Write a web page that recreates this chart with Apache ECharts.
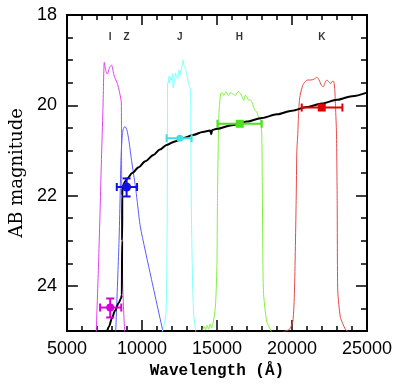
<!DOCTYPE html>
<html>
<head>
<meta charset="utf-8">
<script src="https://cdn.jsdelivr.net/npm/echarts@6/dist/echarts.min.js"></script>
<style>html,body{margin:0;padding:0;background:#fff}#c{width:397px;height:384px}</style>
</head>
<body>
<div id="c"></div>
<script>
// ---- data ----
const xTicks = [5000, 10000, 15000, 20000, 25000];
const yTicks = [18, 20, 22, 24];

const filterI = [[6950,25.05],[7100,23.6],[7230,22.1],[7300,21.2],[7400,20.1],[7490,19.05],[7600,19.25],[7700,19.31],[7850,19.15],[7970,19.11],[8150,19.35],[8364,19.52],[8500,19.7],[8587,19.85],[8626,19.93],[8640,21.0],[8660,22.5],[8720,24.0],[8800,24.7],[8860,25.05]];
const filterZ = [[8250,25.05],[8300,24.6],[8400,23.7],[8475,23.0],[8541,22.1],[8587,21.37],[8626,21.0],[8700,20.63],[8760,20.52],[8869,20.47],[9000,20.55],[9131,20.78],[9308,21.22],[9570,21.81],[9675,22.1],[9898,22.7],[10600,23.8],[11426,25.05]];
const filterJ = [[11295,25.05],[11426,24.95],[11603,24.6],[11660,23.5],[11689,22.0],[11700,20.5],[11708,19.5],[11754,19.52],[11800,19.35],[11850,19.5],[11910,19.38],[11970,19.44],[12030,19.3],[12082,19.62],[12180,19.45],[12240,19.28],[12298,19.37],[12400,19.42],[12460,19.22],[12521,19.33],[12626,19.18],[12690,19.1],[12738,19.0],[12800,19.12],[12849,19.15],[12954,19.26],[13066,19.44],[13177,19.59],[13243,19.67],[13260,20.5],[13282,22.0],[13350,23.5],[13439,24.6],[13610,25.05]];
const filterH = [[14049,24.98],[14150,24.9],[14250,24.97],[14350,24.88],[14450,24.96],[14550,24.85],[14650,24.94],[14750,24.8],[14850,24.6],[14921,24.33],[15000,23.5],[15033,22.11],[15098,20.62],[15144,20.11],[15249,19.74],[15350,19.72],[15450,19.78],[15623,19.70],[15700,19.76],[15800,19.78],[15900,19.72],[16016,19.74],[16120,19.76],[16230,19.78],[16350,19.72],[16456,19.70],[16560,19.74],[16672,19.81],[16784,19.89],[16889,19.78],[17000,19.81],[17111,19.89],[17220,19.88],[17328,19.93],[17439,20.04],[17544,20.11],[17656,20.15],[17767,20.26],[17872,20.3],[17984,20.62],[18030,22.11],[18095,24.11],[18311,24.78],[18639,25.02]];
const filterK = [[19407,25.02],[19839,24.96],[20062,24.78],[20167,24.11],[20279,22.11],[20325,21.0],[20390,20.62],[20430,20.26],[20495,19.89],[20561,19.75],[20718,19.56],[20869,19.48],[21046,19.44],[21262,19.44],[21479,19.42],[21656,19.38],[21807,19.44],[21964,19.56],[22095,19.59],[22180,19.52],[22311,19.44],[22462,19.48],[22574,19.52],[22685,19.47],[22790,19.48],[22856,19.67],[22902,20.04],[22967,20.62],[23013,22.11],[23052,24.11],[23230,24.7],[23557,24.96],[23774,25.02]];

const sed = [[7640,25.05],[7800,24.9],[8000,24.72],[8200,24.55],[8450,24.38],[8600,24.28],[8660,24.2],[8680,23.0],[8690,22.0],[8700,21.85],[8760,21.76],[8880,21.69],[9023,21.62],[9351,21.5],[9787,21.37],[10226,21.24],[10770,21.1],[11200,20.98],[11643,20.88],[12200,20.8],[12738,20.73],[13400,20.66],[14049,20.59],[14550,20.56],[14620,20.64],[14680,20.55],[15000,20.52],[16000,20.44],[17000,20.36],[18000,20.28],[19000,20.20],[20000,20.12],[21000,20.04],[22000,19.96],[23000,19.88],[24000,19.80],[25000,19.72]];

// photometry: [wavelength, mag, xLow, xHigh, magLow, magHigh]
const photI = [[7885, 24.48, 7210, 8623, 24.28, 24.70]];
const photZ = [[8978, 21.81, 8323, 9675, 21.62, 22.02]];
const photJ = [[12521, 20.73, 11643, 13311, 20.73, 20.73]];
const photH = [[16520, 20.41, 15033, 17984, 20.41, 20.41]];
const photK = [[21984, 20.05, 20650, 23361, 20.05, 20.05]];

const bandNames = ['I', 'Z', 'J', 'H', 'K'];
const bandX = [7885, 8978, 12521, 16500, 21984];
const bandLabelMag = 18.5;

// ---- chart ----
const chart = echarts.init(document.getElementById('c'));
const black = '#000';

function xAx(pos, interval, len, showLabel, name) {
  return {
    type: 'value', position: pos, min: 5000, max: 25000, interval: interval,
    axisLine: {show: true, onZero: false, lineStyle: {color: black, width: 2}},
    axisTick: {show: true, inside: true, length: len, lineStyle: {color: black, width: 1.5}},
    axisLabel: {show: showLabel, color: black, fontSize: 18, fontFamily: 'Liberation Sans', margin: 9,
      formatter: v => (xTicks.indexOf(v) >= 0 ? String(v) : '')},
    splitLine: {show: false},
    name: name || '', nameLocation: 'middle', nameGap: 31,
    nameTextStyle: {fontFamily: 'Liberation Mono', fontWeight: 'bold', fontSize: 16, color: black}
  };
}
function yAx(pos, interval, len, showLabel, name) {
  return {
    type: 'value', position: pos, min: 18, max: 25, interval: interval, inverse: true,
    axisLine: {show: true, onZero: false, lineStyle: {color: black, width: 2}},
    axisTick: {show: true, inside: true, length: len, lineStyle: {color: black, width: 1.5}},
    axisLabel: {show: showLabel, color: black, fontSize: 18, fontFamily: 'Liberation Sans', margin: 10,
      formatter: v => (yTicks.indexOf(v) >= 0 ? String(v) : '')},
    splitLine: {show: false},
    name: name || '', nameLocation: 'middle', nameGap: 37,
    nameTextStyle: {fontFamily: 'DejaVu Serif', fontSize: 18, color: black}
  };
}

function errRender(color) {
  return function (params, api) {
    const x = api.value(0), y = api.value(1);
    const pL = api.coord([api.value(2), y]);
    const pR = api.coord([api.value(3), y]);
    const pT = api.coord([x, api.value(4)]);
    const pB = api.coord([x, api.value(5)]);
    const cap = 4;
    const st = {stroke: color, lineWidth: 2};
    const ch = [
      {type: 'line', shape: {x1: pL[0], y1: pL[1], x2: pR[0], y2: pR[1]}, style: st},
      {type: 'line', shape: {x1: pL[0], y1: pL[1] - cap, x2: pL[0], y2: pL[1] + cap}, style: st},
      {type: 'line', shape: {x1: pR[0], y1: pR[1] - cap, x2: pR[0], y2: pR[1] + cap}, style: st}
    ];
    if (Math.abs(pB[1] - pT[1]) > 1) {
      ch.push({type: 'line', shape: {x1: pT[0], y1: pT[1], x2: pB[0], y2: pB[1]}, style: st});
      ch.push({type: 'line', shape: {x1: pT[0] - cap, y1: pT[1], x2: pT[0] + cap, y2: pT[1]}, style: st});
      ch.push({type: 'line', shape: {x1: pB[0] - cap, y1: pB[1], x2: pB[0] + cap, y2: pB[1]}, style: st});
    }
    return {type: 'group', children: ch};
  };
}

function filt(data, color) {
  return {type: 'line', data: data, symbol: 'none', clip: true, smooth: 0.2,
    lineStyle: {color: color, width: 1}, z: 2, silent: true};
}
function phot(data, color, symbol, size) {
  return [
    {type: 'custom', data: data, renderItem: errRender(color), z: 4, silent: true, clip: false},
    {type: 'scatter', data: data.map(d => [d[0], d[1]]), symbol: symbol, symbolSize: size,
      itemStyle: {color: color, opacity: 1}, z: 5, silent: true}
  ];
}

chart.setOption({
  animation: false,
  backgroundColor: '#fff',
  grid: {left: 62, right: 30, top: 15, bottom: 53},
  xAxis: [
    xAx('bottom', 5000, 11, true, 'Wavelength (Å)'),
    xAx('bottom', 1000, 5, false),
    xAx('top', 5000, 10, false),
    xAx('top', 1000, 5, false)
  ],
  yAxis: [
    yAx('left', 2, 11, true, 'AB magnitude'),
    yAx('left', 0.5, 6, false),
    yAx('right', 2, 11, false),
    yAx('right', 0.5, 6, false)
  ],
  series: [
    filt(filterI, '#e040f0'),
    filt(filterZ, '#5a5aff'),
    filt(filterJ, '#80ffff'),
    filt(filterH, '#80f040'),
    filt(filterK, '#e84848'),
    {type: 'line', data: sed, symbol: 'none', clip: true, smooth: 0.3, smoothMonotone: 'x',
      lineStyle: {color: black, width: 2}, z: 3, silent: true},
    ...phot(photI, '#d400d4', 'circle', 8),
    ...phot(photZ, '#1010e8', 'circle', 9),
    ...phot(photJ, '#40e0e0', 'circle', 7),
    ...phot(photH, '#50e020', 'rect', 8),
    ...phot(photK, '#dd0000', 'rect', 8),
    {type: 'scatter', data: bandX.map((x, i) => [x, bandLabelMag, bandNames[i]]), symbolSize: 0,
      label: {show: true, position: 'inside', formatter: p => p.data[2], color: black,
        fontSize: 10, fontWeight: 'bold', fontFamily: 'Liberation Sans'}, z: 6, silent: true}
  ]
});
</script>
</body>
</html>
